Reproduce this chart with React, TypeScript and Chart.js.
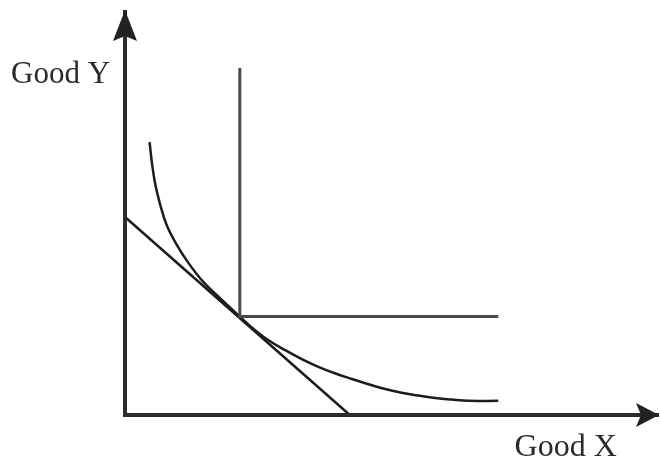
import React, { useEffect, useRef } from 'react';
import { Chart, registerables } from 'chart.js';
Chart.register(...registerables);

// axes: y-axis top -> origin -> x-axis end (data units 0..10)
const axisX = [0, 0, 10];
const axisY = [10, 0, 0];

// budget line
const budgetX = [0, 4.21];
const budgetY = [4.89, 0];

// L-shaped (perfect complements) indifference curve
const leontiefX = [2.15, 2.15, 6.99];
const leontiefY = [8.57, 2.43, 2.43];

// convex indifference curve
const curveX = [0.46, 0.51, 0.57, 0.66, 0.78, 0.97, 1.19, 1.47, 1.8, 2.15, 2.43, 2.68, 3.0, 3.31, 3.62, 3.93, 4.25, 4.56, 4.87, 5.18, 5.49, 5.81, 6.12, 6.43, 6.99];
const curveY = [6.74, 6.17, 5.68, 5.19, 4.69, 4.2, 3.75, 3.28, 2.86, 2.43, 2.1, 1.85, 1.6, 1.38, 1.19, 1.03, 0.89, 0.76, 0.64, 0.55, 0.48, 0.42, 0.38, 0.35, 0.35];

const axisTitles = ['Good Y', 'Good X'];

const toPoints = (xs: number[], ys: number[]) => xs.map((x, i) => ({ x, y: ys[i] }));

const arrowPlugin = {
    id: 'arrowHeads',
    afterDatasetsDraw(chart: any) {
        const pts = chart.getDatasetMeta(0).data;
        if (pts.length < 2) return;
        const ctx = chart.ctx;
        const draw = (tip: any, from: any, len: number, half: number) => {
            const ang = Math.atan2(tip.y - from.y, tip.x - from.x);
            ctx.save();
            ctx.translate(tip.x, tip.y);
            ctx.rotate(ang);
            ctx.beginPath();
            ctx.moveTo(0, 0);
            ctx.lineTo(-len, -half);
            ctx.lineTo(-len + 5, 0);
            ctx.lineTo(-len, half);
            ctx.closePath();
            ctx.fillStyle = '#222';
            ctx.fill();
            ctx.restore();
        };
        draw(pts[0], pts[1], 31, 12);
        draw(pts[pts.length - 1], pts[pts.length - 2], 23, 12);
    },
    afterDraw(chart: any) {
        const ctx = chart.ctx;
        const xs = chart.scales.x;
        const ys = chart.scales.y;
        // anchor (right end, baseline) of each title in data units
        const anchors = [
            { x: -0.28, y: 8.2, size: 31 },
            { x: 9.21, y: -1.01, size: 32 },
        ];
        ctx.save();
        ctx.fillStyle = '#2a2a2a';
        ctx.textAlign = 'right';
        ctx.textBaseline = 'alphabetic';
        axisTitles.forEach((t, i) => {
            const a = anchors[i];
            ctx.font = `${a.size}px "Liberation Serif"`;
            ctx.fillText(t, xs.getPixelForValue(a.x), ys.getPixelForValue(a.y));
        });
        ctx.restore();
    },
};

const App: React.FC = () => {
    const canvasRef = useRef<HTMLCanvasElement>(null);
    const chartRef = useRef<Chart | null>(null);

    useEffect(() => {
        if (!canvasRef.current) return;
        if (chartRef.current) chartRef.current.destroy();
        chartRef.current = new Chart(canvasRef.current, {
            type: 'scatter',
            data: {
                datasets: [
                    {
                        data: toPoints(axisX, axisY),
                        showLine: true,
                        borderColor: '#2b2b2b',
                        borderWidth: 4,
                        borderJoinStyle: 'miter',
                        pointRadius: 0,
                        clip: false,
                    } as any,
                    {
                        data: toPoints(leontiefX, leontiefY),
                        showLine: true,
                        borderColor: '#4a4a4a',
                        borderWidth: 3,
                        borderJoinStyle: 'miter',
                        pointRadius: 0,
                        clip: false,
                    },
                    {
                        data: toPoints(budgetX, budgetY),
                        showLine: true,
                        borderColor: '#1c1c1c',
                        borderWidth: 2.5,
                        pointRadius: 0,
                        clip: false,
                    },
                    {
                        data: toPoints(curveX, curveY),
                        showLine: true,
                        borderColor: '#1c1c1c',
                        borderWidth: 2.5,
                        tension: 0.4,
                        pointRadius: 0,
                        clip: false,
                    },
                ],
            },
            options: {
                responsive: false,
                animation: false,
                layout: { padding: { left: 125, right: 1, top: 10, bottom: 43 } },
                scales: {
                    x: { type: 'linear', min: 0, max: 10, display: false },
                    y: { type: 'linear', min: 0, max: 10, display: false },
                },
                plugins: { legend: { display: false }, tooltip: { enabled: false } },
                events: [],
            },
            plugins: [arrowPlugin],
        });
        return () => { if (chartRef.current) chartRef.current.destroy(); chartRef.current = null; };
    }, []);

    return (
        <div style={{ position: 'fixed', left: 0, top: 0, width: 660, height: 458, background: '#fff' }}>
            <canvas ref={canvasRef} width={660} height={458}></canvas>
        </div>
    );
};

export default App;
